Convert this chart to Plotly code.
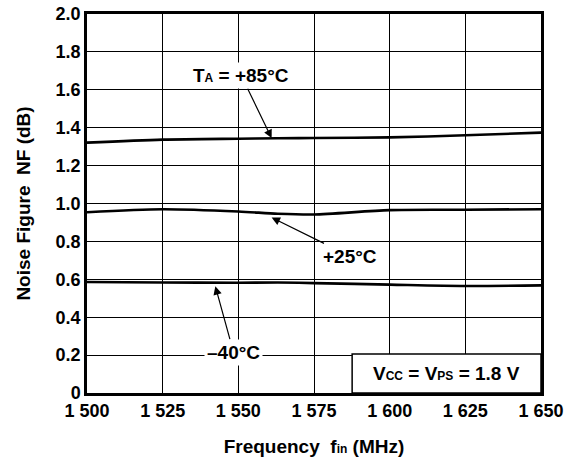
import plotly.graph_objects as go

freq = [1500, 1525, 1550, 1563, 1575, 1600, 1625, 1650]
nf_85 = [1.321, 1.337, 1.342, 1.344, 1.346, 1.349, 1.360, 1.374]
nf_25 = [0.954, 0.970, 0.958, 0.946, 0.942, 0.965, 0.967, 0.970]
nf_m40 = [0.586, 0.583, 0.582, 0.583, 0.580, 0.572, 0.565, 0.568]

x_ticks = [1500, 1525, 1550, 1575, 1600, 1625, 1650]
x_ticktext = ["1 500", "1 525", "1 550", "1 575", "1 600", "1 625", "1 650"]
y_ticks = [0, 0.2, 0.4, 0.6, 0.8, 1.0, 1.2, 1.4, 1.6, 1.8, 2.0]
y_ticktext = ["0", "0.2", "0.4", "0.6", "0.8", "1.0", "1.2", "1.4", "1.6", "1.8", "2.0"]

FONT = "Liberation Sans, Arial, sans-serif"

fig = go.Figure()
for ys in (nf_85, nf_25, nf_m40):
    fig.add_trace(go.Scatter(x=freq, y=ys, mode="lines",
                             line=dict(color="black", width=2.6, shape="spline", smoothing=0.8),
                             showlegend=False, hoverinfo="skip"))

small = "<span style='font-size:12px'>{}</span>"
B = lambda s: "<b>" + s + "</b>"

fig.update_layout(
    width=582, height=468,
    margin=dict(l=87, r=41, t=14, b=75),
    paper_bgcolor="white", plot_bgcolor="white",
    font=dict(family=FONT, size=18, color="black"),
    xaxis=dict(range=[1500, 1650], tickvals=x_ticks, ticktext=[B(t) for t in x_ticktext],
               showgrid=True, gridcolor="black", gridwidth=1.2,
               showline=True, linecolor="black", linewidth=2.5, mirror=True,
               ticks="", zeroline=False, automargin=False,
               tickfont=dict(family=FONT, size=18, color="black"),
               title=dict(text=B("Frequency  f" + small.format("in") + " (MHz)"), standoff=20,
                          font=dict(family=FONT, size=19))),
    yaxis=dict(range=[0, 2.0], tickvals=y_ticks, ticktext=[B(t) for t in y_ticktext],
               showgrid=True, gridcolor="black", gridwidth=1.2,
               showline=True, linecolor="black", linewidth=2.5, mirror=True,
               ticks="", zeroline=False, automargin=False,
               tickfont=dict(family=FONT, size=18, color="black"),
               title=dict(text=B("Noise Figure  NF (dB)"), standoff=20,
                          font=dict(family=FONT, size=19))),
)

ann_common = dict(xref="x", yref="y", axref="x", ayref="y", showarrow=True,
                  arrowhead=2, arrowsize=1.4, arrowwidth=1.2, arrowcolor="black",
                  bgcolor="white", borderpad=2, font=dict(family=FONT, size=19, color="black"))

fig.add_annotation(x=1561, y=1.345, ax=1551, ay=1.674,
                   text=B("T" + small.format("A") + " = +85°C"), **ann_common)
fig.add_annotation(x=1561, y=0.926, ax=1587, ay=0.721,
                   text=B("+25°C"), **ann_common)
fig.add_annotation(x=1542.4, y=0.563, ax=1548.4, ay=0.216,
                   text=B("\u201340°C"), **ann_common)

fig.add_shape(type="rect", xref="paper", yref="paper", x0=0.584, x1=1.0, y0=0.0, y1=0.103,
              line=dict(color="black", width=1.5), fillcolor="white", layer="above")
fig.add_annotation(xref="paper", yref="paper", x=0.792, y=0.0515, xanchor="center", yanchor="middle",
                   showarrow=False,
                   text=B("V" + small.format("CC") + " = V" + small.format("PS") + " = 1.8 V"),
                   font=dict(family=FONT, size=19, color="black"))

fig.write_html("out.html", config={"displayModeBar": False},
               post_script="document.body.style.margin='0';")
